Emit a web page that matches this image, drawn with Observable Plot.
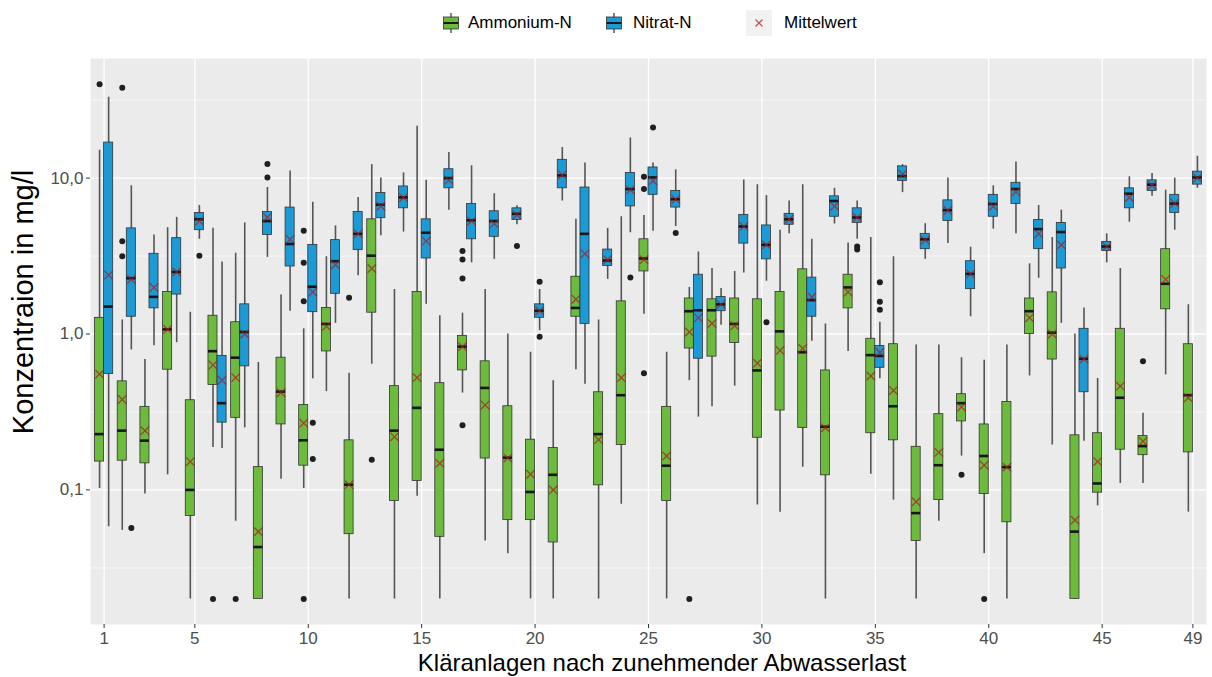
<!DOCTYPE html>
<html>
<head>
<meta charset="utf-8">
<script src="https://cdn.jsdelivr.net/npm/d3@7"></script>
<script src="https://cdn.jsdelivr.net/npm/@observablehq/plot@0.6"></script>
<style>
  html, body { margin: 0; padding: 0; background: #ffffff; }
  body { font-family: "Liberation Sans", Arial, sans-serif; width: 1212px; }
  #legend { position: relative; width: 1212px; height: 40px; }
  #legend .lbl { position: absolute; top: 12px; font-size: 17px; line-height: 21px; color: #000; white-space: nowrap; }
  #legend svg { position: absolute; }
  #chart svg { display: block; }
</style>
</head>
<body>
<div id="legend">
  <svg style="left:442px;top:12px" width="18" height="22">
    <line x1="9" y1="1" x2="9" y2="21" stroke="#5a5a5a" stroke-width="1.5"/>
    <rect x="1.5" y="5" width="15" height="12" fill="#6CBB3C" stroke="#333" stroke-width="0.8"/>
    <line x1="1.5" y1="11" x2="16.5" y2="11" stroke="#1a1a1a" stroke-width="2"/>
  </svg>
  <span class="lbl" style="left:468px">Ammonium-N</span>
  <svg style="left:605px;top:12px" width="18" height="22">
    <line x1="9" y1="1" x2="9" y2="21" stroke="#5a5a5a" stroke-width="1.5"/>
    <rect x="1.5" y="5" width="15" height="12" fill="#1B9AD6" stroke="#333" stroke-width="0.8"/>
    <line x1="1.5" y1="11" x2="16.5" y2="11" stroke="#1a1a1a" stroke-width="2"/>
  </svg>
  <span class="lbl" style="left:633px">Nitrat-N</span>
  <svg style="left:746px;top:10px" width="26" height="26">
    <rect x="0" y="0" width="26" height="26" fill="#F2F2F2"/>
    <path d="M9.5,9.5 L16.5,16.5 M16.5,9.5 L9.5,16.5" stroke="#C0504D" stroke-width="1.2"/>
  </svg>
  <span class="lbl" style="left:784px">Mittelwert</span>
</div>
<div id="chart"></div>
<script>
// ---- Data ----
const plants = d3.range(1, 50);
const seriesNames = ["Ammonium-N", "Nitrat-N"];
const seriesColors = ["#6CBB3C", "#1B9AD6"];
const xTickValues = [1, 5, 10, 15, 20, 25, 30, 35, 40, 45, 49];
const yMajor = [0.1, 1, 10];
const yMinor = [0.0316, 0.316, 3.16, 31.6];

// Ammonium-N (green)
const ammLo = [0.102,0.055,0.094,0.125,0.02,0.187,0.063,0.02,0.117,0.102, 0.427,0.02,0.64,0.02,0.091,0.02,0.418,0.047,0.039,0.02, 0.02,0.59,0.02,0.081,1.34,0.02,0.502,0.341,0.463,0.08, 0.072,0.14,0.02,0.773,0.126,0.086,0.02,0.063,0.165,0.039, 0.02,0.538,0.194,0.02,0.079,0.11,0.11,0.547,0.072];
const ammQ1 = [0.152,0.154,0.148,0.59,0.068,0.471,0.29,0.02,0.263,0.143, 0.773,0.052,1.37,0.085,0.114,0.05,0.584,0.159,0.064,0.064, 0.046,1.29,0.107,0.194,2.52,0.085,0.807,0.716,0.875,0.216, 0.323,0.25,0.124,1.46,0.231,0.208,0.047,0.086,0.275,0.094, 0.062,1.0,0.686,0.02,0.096,0.181,0.167,1.44,0.174];
const ammMed = [0.228,0.24,0.207,1.07,0.1,0.776,0.705,0.043,0.427,0.208, 1.16,0.108,3.18,0.24,0.336,0.181,0.83,0.451,0.161,0.097, 0.125,1.47,0.228,0.405,3.05,0.143,1.4,1.42,1.16,0.584, 1.04,0.764,0.254,1.99,0.732,0.344,0.071,0.144,0.36,0.165, 0.14,1.4,1.02,0.054,0.11,0.39,0.191,2.1,0.405];
const ammQ3 = [1.27,0.497,0.341,1.86,0.376,1.31,1.19,0.14,0.705,0.35, 1.47,0.208,5.44,0.463,1.86,0.484,0.973,0.668,0.344,0.21, 0.186,2.33,0.423,1.62,4.05,0.341,1.69,1.67,1.69,1.67, 1.86,2.6,0.584,2.4,0.932,0.86,0.189,0.306,0.411,0.263, 0.366,1.69,1.85,0.224,0.231,1.08,0.222,3.5,0.86];
const ammHi = [15.1,1.23,0.686,4.81,1.38,4.76,3.3,0.657,1.78,1.08, 3.13,0.56,12.2,1.93,21.5,1.31,1.36,1.93,1.0,0.764, 0.502,5.44,1.23,5.65,5.75,0.764,1.99,2.63,2.52,9.08, 4.63,9.08,1.16,3.84,4.16,3.13,0.851,0.851,0.705,0.679, 0.851,2.82,4.16,1.0,0.519,2.63,0.31,8.37,1.54];
const ammMean = [0.553,0.38,0.24,1.07,0.152,0.633,0.525,0.054,0.42,0.268, 1.12,0.108,2.63,0.219,0.525,0.148,0.83,0.35,0.16,0.126, 0.1,1.67,0.21,0.525,3.0,0.165,1.03,1.17,1.13,0.65, 0.785,0.807,0.25,1.86,0.538,0.434,0.084,0.174,0.34,0.144, 0.14,1.27,1.0,0.064,0.152,0.463,0.205,2.24,0.39];
const ammOutliers = [[1,40],[2,38],[2,3.94],[2,3.15],[6,0.02],[7,0.02],[10,4.6],[10,2.86],[10,1.62],[10,0.02],[12,1.71],[13,0.156],[17,3.41],[17,3.01],[17,2.27],[17,0.26],[25,10.2],[25,8.5],[25,0.56],[27,0.02],[39,0.125],[40,0.02],[47,0.668]];

// Nitrat-N (blue)
const nitLo = [0.058,0.79,0.84,0.88,4.05,0.184,0.25,3.1,1.4,0.516, 1.17,2.36,4.27,4.51,1.55,6.23,2.86,3.01,5.02,1.05, 7.13,0.476,2.24,4.46,4.56,4.89,0.293,1.14,2.46,2.18, 4.39,0.898,5.08,4.05,0.516,8.07,3.01,3.8,1.29,4.71, 4.39,2.28,1.17,0.205,2.86,5.21,7.64,4.63,8.6];
const nitQ1 = [0.553,1.29,1.46,1.79,4.63,0.27,0.62,4.32,2.71,1.38, 1.81,3.45,5.53,6.4,3.05,8.6,4.05,4.2,5.39,1.27, 8.6,1.16,2.73,6.58,7.81,6.47,0.694,1.4,3.8,3.01, 5.02,1.29,5.65,5.16,0.607,9.58,3.5,5.3,1.94,5.65, 6.82,3.5,2.63,0.423,3.41,6.4,8.28,5.97,9.08];
const nitMed = [1.5,2.28,1.73,2.5,5.44,0.36,1.03,5.3,3.78,2.01, 2.93,4.39,6.75,7.52,4.46,10,5.36,5.3,5.9,1.41, 10.4,4.39,2.96,8.5,10.1,7.32,1.42,1.55,4.89,3.73, 5.44,1.65,7.13,5.59,0.724,10.3,4.05,6.23,2.43,6.82, 8.51,4.71,4.51,0.694,3.64,7.94,9.08,6.86,10.1];
const nitQ3 = [16.9,4.76,3.27,4.12,5.97,0.724,1.55,6.06,6.47,3.73, 4.0,6.06,8.02,8.84,5.44,11.4,6.82,6.13,6.4,1.55, 13.1,8.7,3.48,10.8,11.7,8.28,2.4,1.73,5.81,4.97, 5.9,2.3,7.64,6.4,0.838,11.9,4.39,7.2,2.93,7.81, 9.33,5.39,5.16,1.08,3.9,8.6,9.68,7.81,11.0];
const nitHi = [33,8.93,4.32,5.6,6.68,2.9,5.16,8.7,11.1,7.0, 4.94,7.52,10,10.8,9.68,14.6,12,7.94,6.64,1.93, 15.7,12.5,4.76,18.1,12.5,11.3,3.36,1.96,9.73,7.72, 7.13,4.05,8.6,7.13,1.19,12.2,5.1,10,3.6,8.93, 12.7,6.68,6.23,1.47,4.39,10.2,10.7,10,13.8];
const nitMean = [2.39,2.24,1.99,2.5,5.3,0.505,1.0,5.6,4.05,1.86, 2.78,4.39,6.6,7.5,3.94,9.7,5.3,5.1,5.8,1.41, 10.5,3.27,3.0,8.4,9.6,7.3,1.27,1.55,4.9,3.73, 5.44,1.73,6.6,5.59,0.764,10.6,4.0,6.2,2.43,6.6, 8.16,4.39,3.73,0.69,3.64,7.5,9.0,6.9,10];
const nitOutliers = [[2,0.057],[5,3.18],[8,12.3],[8,10.1],[10,0.27],[10,0.158],[19,3.67],[20,2.16],[20,0.96],[24,2.3],[25,21.1],[26,4.44],[30,1.19],[34,3.64],[34,3.48],[35,2.15],[35,1.61],[35,1.43]];

// ---- Build tables (dodged: Ammonium left, Nitrat right) ----
const half = 0.2;
function buildBoxes(series, off, lo, q1, med, q3, hi, mean) {
  return plants.map((p, i) => ({
    plant: p, series, x: p + off, x1: p + off - half, x2: p + off + half,
    lo: lo[i], q1: q1[i], med: med[i], q3: q3[i], hi: hi[i], mean: mean[i]
  }));
}
function buildOut(series, off, list) {
  return list.map(([p, v]) => ({plant: p, series, x: p + off, v}));
}
const boxes = [
  ...buildBoxes(seriesNames[0], -half, ammLo, ammQ1, ammMed, ammQ3, ammHi, ammMean),
  ...buildBoxes(seriesNames[1], +half, nitLo, nitQ1, nitMed, nitQ3, nitHi, nitMean)
];
const outliers = [
  ...buildOut(seriesNames[0], -half, ammOutliers),
  ...buildOut(seriesNames[1], +half, nitOutliers)
];

const fmtDe = d => d.toFixed(1).replace(".", ",");

const chart = Plot.plot({
  width: 1212,
  height: 637,
  marginLeft: 90,
  marginRight: 6,
  marginTop: 18,
  marginBottom: 53,
  style: {fontFamily: "'Liberation Sans', Arial, sans-serif", background: "#ffffff"},
  x: {type: "linear", domain: [0.4, 49.6]},
  y: {type: "log", domain: [0.0137, 58.5]},
  color: {domain: seriesNames, range: seriesColors},
  marks: [
    Plot.frame({fill: "#EBEBEB", stroke: null}),
    Plot.ruleY(yMinor, {stroke: "#ffffff", strokeWidth: 0.6}),
    Plot.ruleY(yMajor, {stroke: "#ffffff", strokeWidth: 1.3}),
    Plot.ruleX(xTickValues, {stroke: "#ffffff", strokeWidth: 1.3}),
    Plot.ruleX(boxes, {x: "x", y1: "lo", y2: "hi", stroke: "#555555", strokeWidth: 1.6}),
    Plot.rect(boxes, {x1: "x1", x2: "x2", y1: "q1", y2: "q3", fill: "series", stroke: "#333333", strokeWidth: 0.8}),
    Plot.ruleY(boxes, {x1: "x1", x2: "x2", y: "med", stroke: "#161616", strokeWidth: 2.6}),
    Plot.dot(boxes, {x: "x", y: "mean", symbol: "times", r: 3.9, stroke: "#a52020", strokeOpacity: 0.75, strokeWidth: 1.3}),
    Plot.dot(outliers, {x: "x", y: "v", r: 3, fill: "#1f1f1f", stroke: null}),
    Plot.axisY({ticks: yMajor, tickFormat: fmtDe, tickSize: 4, tickPadding: 3, fontSize: 17, label: null}),
    Plot.axisX({ticks: xTickValues, tickFormat: d => String(d), tickSize: 4, tickPadding: 3, fontSize: 17, label: null})
  ]
});

document.getElementById("chart").appendChild(chart);

// style axes like ggplot (grey labels, dark ticks) and add axis titles
const svg = d3.select(chart);
svg.selectAll('g[aria-label="y-axis tick label"], g[aria-label="x-axis tick label"]').attr("fill", "#4d4d4d");
svg.selectAll('g[aria-label="y-axis tick"], g[aria-label="x-axis tick"]').attr("stroke", "#333333");

const panelLeft = 90, panelRight = 1212 - 6;
svg.append("text")
  .attr("x", (panelLeft + panelRight) / 2 + 14)
  .attr("y", 631)
  .attr("text-anchor", "middle")
  .attr("font-size", 24)
  .attr("fill", "#000")
  .text("Kläranlagen nach zunehmender Abwasserlast");
svg.append("text")
  .attr("transform", `translate(33,262) rotate(-90)`)
  .attr("text-anchor", "middle")
  .attr("font-size", 29)
  .attr("fill", "#000")
  .text("Konzentraion in mg/l");
</script>
</body>
</html>
